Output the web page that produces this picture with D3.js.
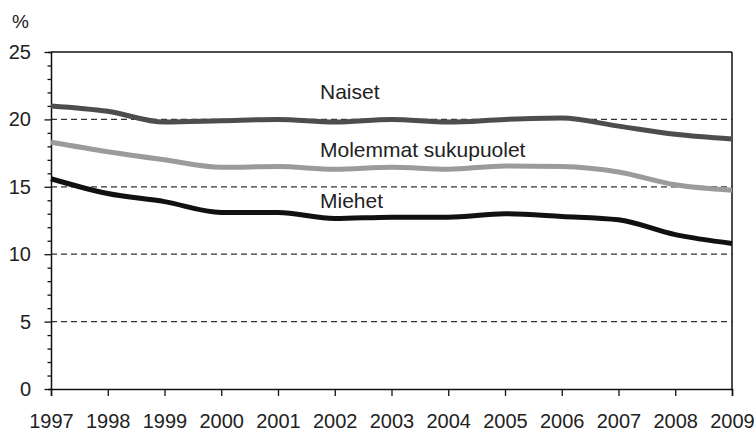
<!DOCTYPE html>
<html><head><meta charset="utf-8">
<script src="https://cdn.jsdelivr.net/npm/d3@7"></script>
<style>body{margin:0;background:#fff}svg{display:block}text{font-family:"Liberation Sans",Arial,sans-serif;fill:#222}</style>
</head><body><svg id="c" width="754" height="431"></svg>
<script>
const years = [1997,1998,1999,2000,2001,2002,2003,2004,2005,2006,2007,2008,2009];
const naiset = [21.0,20.6,19.8,19.9,20.0,19.8,20.0,19.8,20.0,20.1,19.5,18.9,18.55];
const molemmat = [18.3,17.6,17.0,16.45,16.5,16.3,16.45,16.3,16.55,16.5,16.1,15.15,14.75];
const miehet = [15.6,14.5,13.9,13.1,13.1,12.65,12.75,12.75,13.0,12.8,12.55,11.45,10.8];
const yTicks = [0,5,10,15,20,25];
const gridVals = [5,10,15,20];
const seriesNames = ["Naiset","Molemmat sukupuolet","Miehet"];

const svg = d3.select("#c");
const x = d3.scaleLinear().domain([1997,2009]).range([51,732]);
const y = d3.scaleLinear().domain([0,25]).range([389,52]);

// grid
svg.selectAll("line.grid").data(gridVals).enter().append("line")
  .attr("x1",x(1997)).attr("x2",x(2009)).attr("y1",d=>y(d)).attr("y2",d=>y(d))
  .attr("stroke","#333").attr("stroke-width",1.2).attr("stroke-dasharray","6,4");

// frame top & right
svg.append("line").attr("x1",x(1997)).attr("x2",x(2009)).attr("y1",y(25)).attr("y2",y(25)).attr("stroke","#111").attr("stroke-width",1.5);
svg.append("line").attr("x1",x(2009)).attr("x2",x(2009)).attr("y1",y(25)).attr("y2",y(0)).attr("stroke","#111").attr("stroke-width",1.5);

// y axis
const ya = svg.append("g").attr("transform",`translate(${x(1997)},0)`)
  .call(d3.axisLeft(y).tickValues(d3.range(0,26,1)).tickSize(3).tickFormat(""));
ya.select(".domain").attr("stroke","#111").attr("stroke-width",1.5);
ya.selectAll(".tick line").attr("stroke","#111").attr("stroke-width",1.3)
  .attr("x2",d=>d%5===0?-6.5:-3.5);
svg.selectAll("text.yl").data(yTicks).enter().append("text")
  .attr("x",31).attr("y",d=>y(d)+7).attr("text-anchor","end").style("font-size","20px").text(d=>d);

// x axis
const xa = svg.append("g").attr("transform",`translate(0,${y(0)})`)
  .call(d3.axisBottom(x).tickValues(years).tickSize(7).tickFormat(d3.format("d")));
xa.select(".domain").attr("stroke","#111").attr("stroke-width",1.5);
xa.selectAll(".tick line").attr("stroke","#111").attr("stroke-width",1.3);
xa.selectAll(".tick text").style("font-size","20px").attr("fill","#222").attr("dy",0).attr("y",39);

svg.append("text").attr("x",12).attr("y",28).style("font-size","19px").text("%");

// lines
const line = d3.line().x((d,i)=>x(years[i])).y(d=>y(d)).curve(d3.curveMonotoneX);
const series = [[naiset,"#4d4d4d"],[molemmat,"#9b9b9b"],[miehet,"#111"]];
svg.selectAll("path.s").data(series).enter().append("path")
  .attr("d",d=>line(d[0])).attr("fill","none").attr("stroke",d=>d[1]).attr("stroke-width",5)
  .attr("stroke-linejoin","round");

// labels
const labY = [99,157,208];
svg.selectAll("text.lab").data(seriesNames).enter().append("text")
  .attr("x",320).attr("y",(d,i)=>labY[i]).style("font-size","21px").text(d=>d);
</script></body></html>
